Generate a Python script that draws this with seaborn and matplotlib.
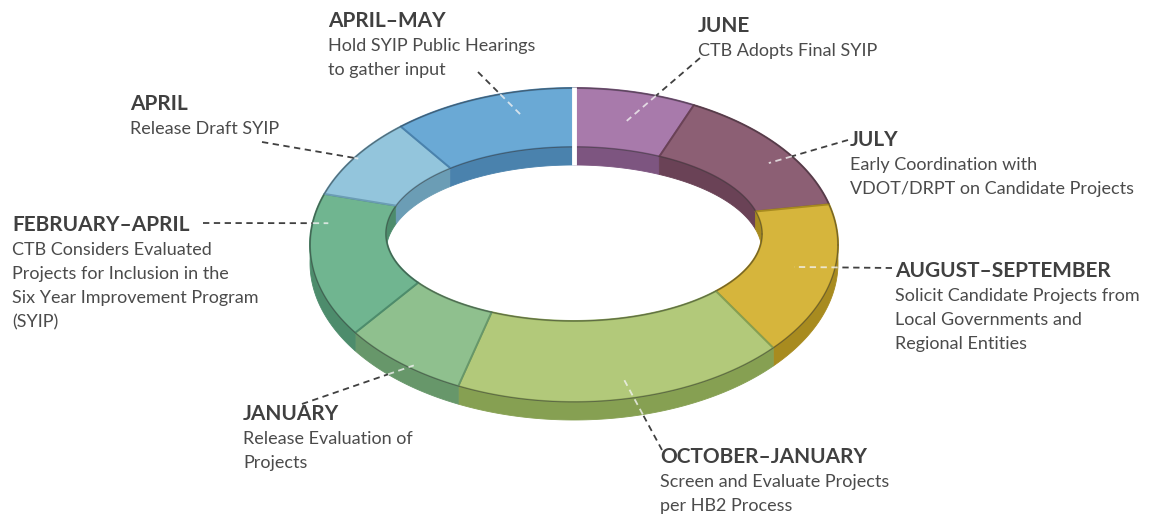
import numpy as np
import matplotlib.pyplot as plt
from matplotlib.patches import Polygon
import seaborn as sns

# ---- data: planning cycle, clockwise from the top ----
periods = ['JUNE', 'JULY', 'AUGUST–SEPTEMBER', 'OCTOBER–JANUARY',
           'JANUARY', 'FEBRUARY–APRIL', 'APRIL', 'APRIL–MAY']
spans = [27, 48, 56, 75, 30, 53, 30, 41]   # degrees of the ring
notes = [
    ['CTB Adopts Final SYIP'],
    ['Early Coordination with', 'VDOT/DRPT on Candidate Projects'],
    ['Solicit Candidate Projects from', 'Local Governments and', 'Regional Entities'],
    ['Screen and Evaluate Projects', 'per HB2 Process'],
    ['Release Evaluation of', 'Projects'],
    ['CTB Considers Evaluated', 'Projects for Inclusion in the',
     'Six Year Improvement Program', '(SYIP)'],
    ['Release Draft SYIP'],
    ['Hold SYIP Public Hearings', 'to gather input'],
]
top_colors = ['#a87aab', '#8c5f74', '#d6b53c', '#b2c97a',
              '#8fc08e', '#70b590', '#93c5dc', '#6aa9d5']
side_colors = ['#7d5580', '#6a4256', '#a88b1f', '#86a052',
               '#67976a', '#4d8c6c', '#6b9db5', '#4a82ad']

# ---- layout ----
label_x = [698, 850, 895, 660, 243, 12, 130, 328]
label_y = [32, 146, 277, 463, 420, 231, 110, 27]
leader_start = [(700, 58), (848, 140), (892, 268), (662, 450),
                (302, 404), (203, 223), (262, 142), (478, 72)]
anchor = [(0.5, 0.5), (0.57, 0.68), (0.5, 0.5), (0.5, 0.72),
          (0.4, 0.95), (0.79, 0.79), (0.5, 0.95), (0.68, 0.6)]

OUT = (574, 245, 264, 157)
INN = (574, 234, 188, 87)
DEPTH = 18
LINE = 24

sns.set_theme(style='white')
plt.rcParams['font.family'] = ['Lato', 'DejaVu Sans']


def ring_xy(r, t):
    cx = INN[0] + r * (OUT[0] - INN[0])
    cy = INN[1] + r * (OUT[1] - INN[1])
    a = INN[2] + r * (OUT[2] - INN[2])
    b = INN[3] + r * (OUT[3] - INN[3])
    return cx + a * np.cos(t), cy - b * np.sin(t)


fig = plt.figure(figsize=(11.56, 5.22), dpi=100, facecolor='white')
ax = fig.add_axes([0, 0, 1, 1])
ax.set_xlim(0, 1156)
ax.set_ylim(522, 0)
ax.axis('off')

bounds = 90 - np.concatenate([[0], np.cumsum(spans)])

for i in range(len(periods)):
    t = np.radians(np.linspace(bounds[i], bounds[i + 1], 90))
    ox, oy = ring_xy(1, t)
    ix, iy = ring_xy(0, t)
    # outer and inner walls
    for wx, wy in [(ox, oy), (ix, iy)]:
        ax.add_patch(Polygon(np.c_[np.r_[wx, wx[::-1]], np.r_[wy, wy[::-1] + DEPTH]],
                             facecolor=side_colors[i], edgecolor=side_colors[i],
                             lw=0.6, zorder=1))
    # top surface
    ax.add_patch(Polygon(np.c_[np.r_[ox, ix[::-1]], np.r_[oy, iy[::-1]]],
                         facecolor=top_colors[i], edgecolor=side_colors[i],
                         lw=1.4, joinstyle='round', zorder=2))

# thin outline of the top edges
tt = np.radians(np.linspace(0, 360, 400))
for r in (1, 0):
    ex, ey = ring_xy(r, tt)
    ax.plot(ex, ey, color='#3a3a3a', lw=0.7, alpha=0.55, zorder=3)

# white gap where the cycle starts
gx, gy = ring_xy(np.array([0, 1]), np.radians(90))
ax.plot([gx[0], gx[1]], [gy[0] + DEPTH, gy[1] - 1], color='white', lw=3.5,
        solid_capstyle='butt', zorder=4)


def inside_ring(x, y):
    cx, cy, a, b = OUT
    top = ((x - cx) / a) ** 2 + ((y - cy) / b) ** 2 < 1
    low = ((x - cx) / a) ** 2 + ((y - cy - DEPTH) / b) ** 2 < 1
    return top | low


for i in range(len(periods)):
    # label text
    ax.text(label_x[i], label_y[i], periods[i], fontsize=15, fontweight='bold',
            color='#404040', va='baseline', ha='left', zorder=5)
    for k, line in enumerate(notes[i]):
        ax.text(label_x[i], label_y[i] + LINE * (k + 1), line, fontsize=13,
                color='#4b4b4b', va='baseline', ha='left', zorder=5)

    # leader line: dark outside the ring, pale on top of it
    frac, rf = anchor[i]
    ta = np.radians(bounds[i] + frac * (bounds[i + 1] - bounds[i]))
    exx, eyy = ring_xy(rf, ta)
    sx, sy = leader_start[i]
    s = np.linspace(0, 1, 300)
    px, py = sx + s * (exx - sx), sy + s * (eyy - sy)
    ins = inside_ring(px, py)
    k0 = np.argmax(ins) if ins.any() else len(s) - 1
    ax.plot(px[:k0 + 1], py[:k0 + 1], color='#404040', lw=1.3,
            linestyle=(0, (3.5, 2.5)), zorder=6)
    ax.plot(px[k0:], py[k0:], color='#f2f2f2', lw=1.3, alpha=0.8,
            linestyle=(0, (3.5, 2.5)), zorder=6)

fig.savefig('out.png', dpi=100, facecolor='white')
